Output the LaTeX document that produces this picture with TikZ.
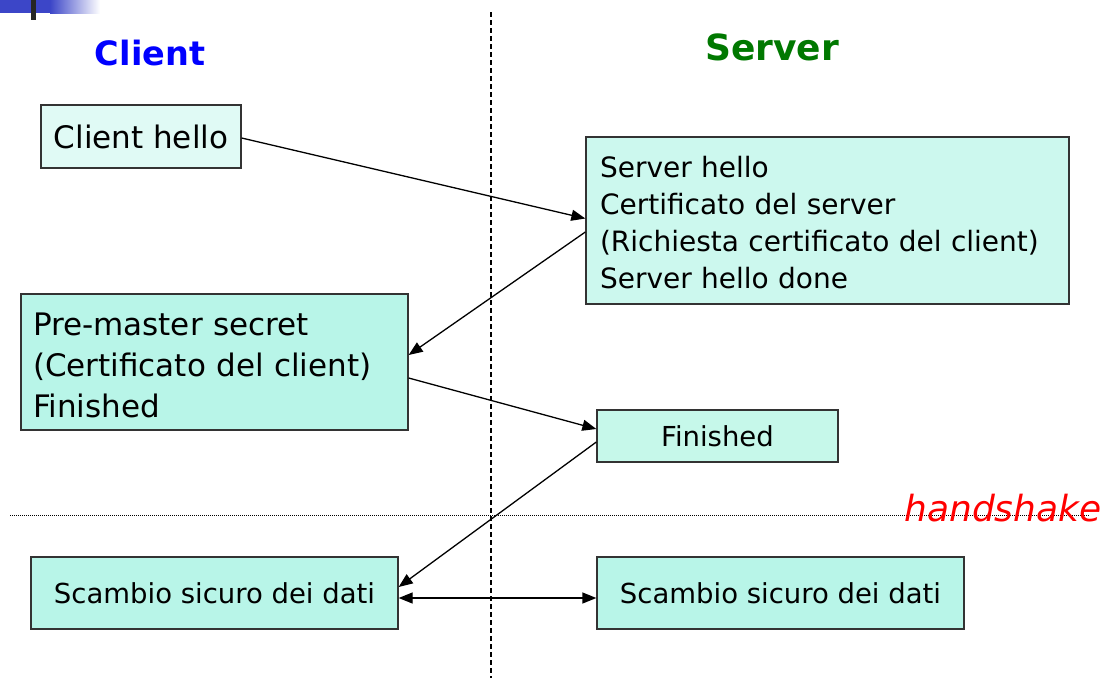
\documentclass[tikz,border=0pt]{standalone}
\usepackage{fontspec}
\setmainfont{DejaVu Sans}
\usetikzlibrary{arrows.meta}
\definecolor{fillA}{HTML}{E0FAF5}
\definecolor{fillB}{HTML}{CCF8EE}
\definecolor{fillC}{HTML}{B8F5E8}
\definecolor{fillD}{HTML}{C6F8EA}
\definecolor{edge}{HTML}{333333}
\definecolor{topblue}{RGB}{60,70,200}
\definecolor{srvgreen}{RGB}{0,120,0}
\tikzset{
  box/.style={draw=edge,line width=1.3pt,rectangle,inner sep=0pt},
  msg/.style={line width=1.3pt,-{Triangle[length=14pt,width=11pt]}},
  dmsg/.style={line width=1.3pt,{Triangle[length=14pt,width=11pt]}-{Triangle[length=14pt,width=11pt]}},
  txtA/.style={font=\fontsize{28}{37}\selectfont},
  txtB/.style={font=\fontsize{31}{41}\selectfont},
  txtC/.style={font=\fontsize{27.5}{33}\selectfont},
}
\begin{document}
\begin{tikzpicture}[x=1pt,y=-1pt]
\useasboundingbox (0,0) rectangle (1106,678);
% top-left decoration
\fill[topblue] (0,0) rectangle (50,13);
\shade[left color=topblue,right color=white] (50,0) rectangle (100,13);
\fill[black!85] (31,0) rectangle (36,20);
% separators
\draw[line width=1.2pt,dash pattern=on 5pt off 3pt] (491,12) -- (491,678);
\draw[line width=0.8pt,dash pattern=on 1pt off 1pt,black] (10,515) -- (1090,515);
% headings
\node[text=blue,font=\fontsize{33.5}{40}\selectfont\bfseries] (hc) at (150,53) {Client};
\node[text=srvgreen,font=\fontsize{36}{42}\selectfont\bfseries] (hs) at (772,47) {Server};
\node[text=red,font=\fontsize{36}{42}\selectfont\itshape] (hh) at (1003,508) {handshake};
% boxes
\node[box,fill=fillA,minimum width=200pt,minimum height=63pt,txtB] (ch) at (141,136.5) {Client hello};
\node[box,fill=fillB,minimum width=483pt,minimum height=167pt,txtA,align=left,text width=455pt] (sv) at (827.5,220.5)
  {\raisebox{-5pt}[\height][\depth]{\begin{tabular}{@{}l@{}}Server hello\\Certificato del server\\(Richiesta certificato del client)\\Server hello done\end{tabular}}};
\node[box,fill=fillC,minimum width=387pt,minimum height=136pt,txtB,align=left,text width=363pt] (pm) at (214.5,362)
  {\raisebox{-6pt}[\height][\depth]{\begin{tabular}{@{}l@{}}Pre-master secret\\(Certificato del client)\\Finished\end{tabular}}};
\node[box,fill=fillD,minimum width=241pt,minimum height=52pt,txtC] (fs) at (717.5,436) {Finished};
\node[box,fill=fillC,minimum width=367pt,minimum height=72pt,txtC] (sc) at (214.5,593) {Scambio sicuro dei dati};
\node[box,fill=fillC,minimum width=367pt,minimum height=72pt,txtC] (ss) at (780.5,593) {Scambio sicuro dei dati};
% connectors
\draw[msg] ([yshift=-1.5pt]ch.east) -- ([yshift=2pt]sv.west);
\draw[msg] ([yshift=-11.5pt]sv.west) -- ([yshift=7pt]pm.east);
\draw[msg] ([yshift=-16pt]pm.east) -- ([yshift=7pt]fs.west);
\draw[msg] ([yshift=-6pt]fs.west) -- ([yshift=6pt]sc.east);
\draw[dmsg] ([yshift=-5pt]sc.east) -- ([yshift=-5pt]ss.west);
\end{tikzpicture}
\end{document}
